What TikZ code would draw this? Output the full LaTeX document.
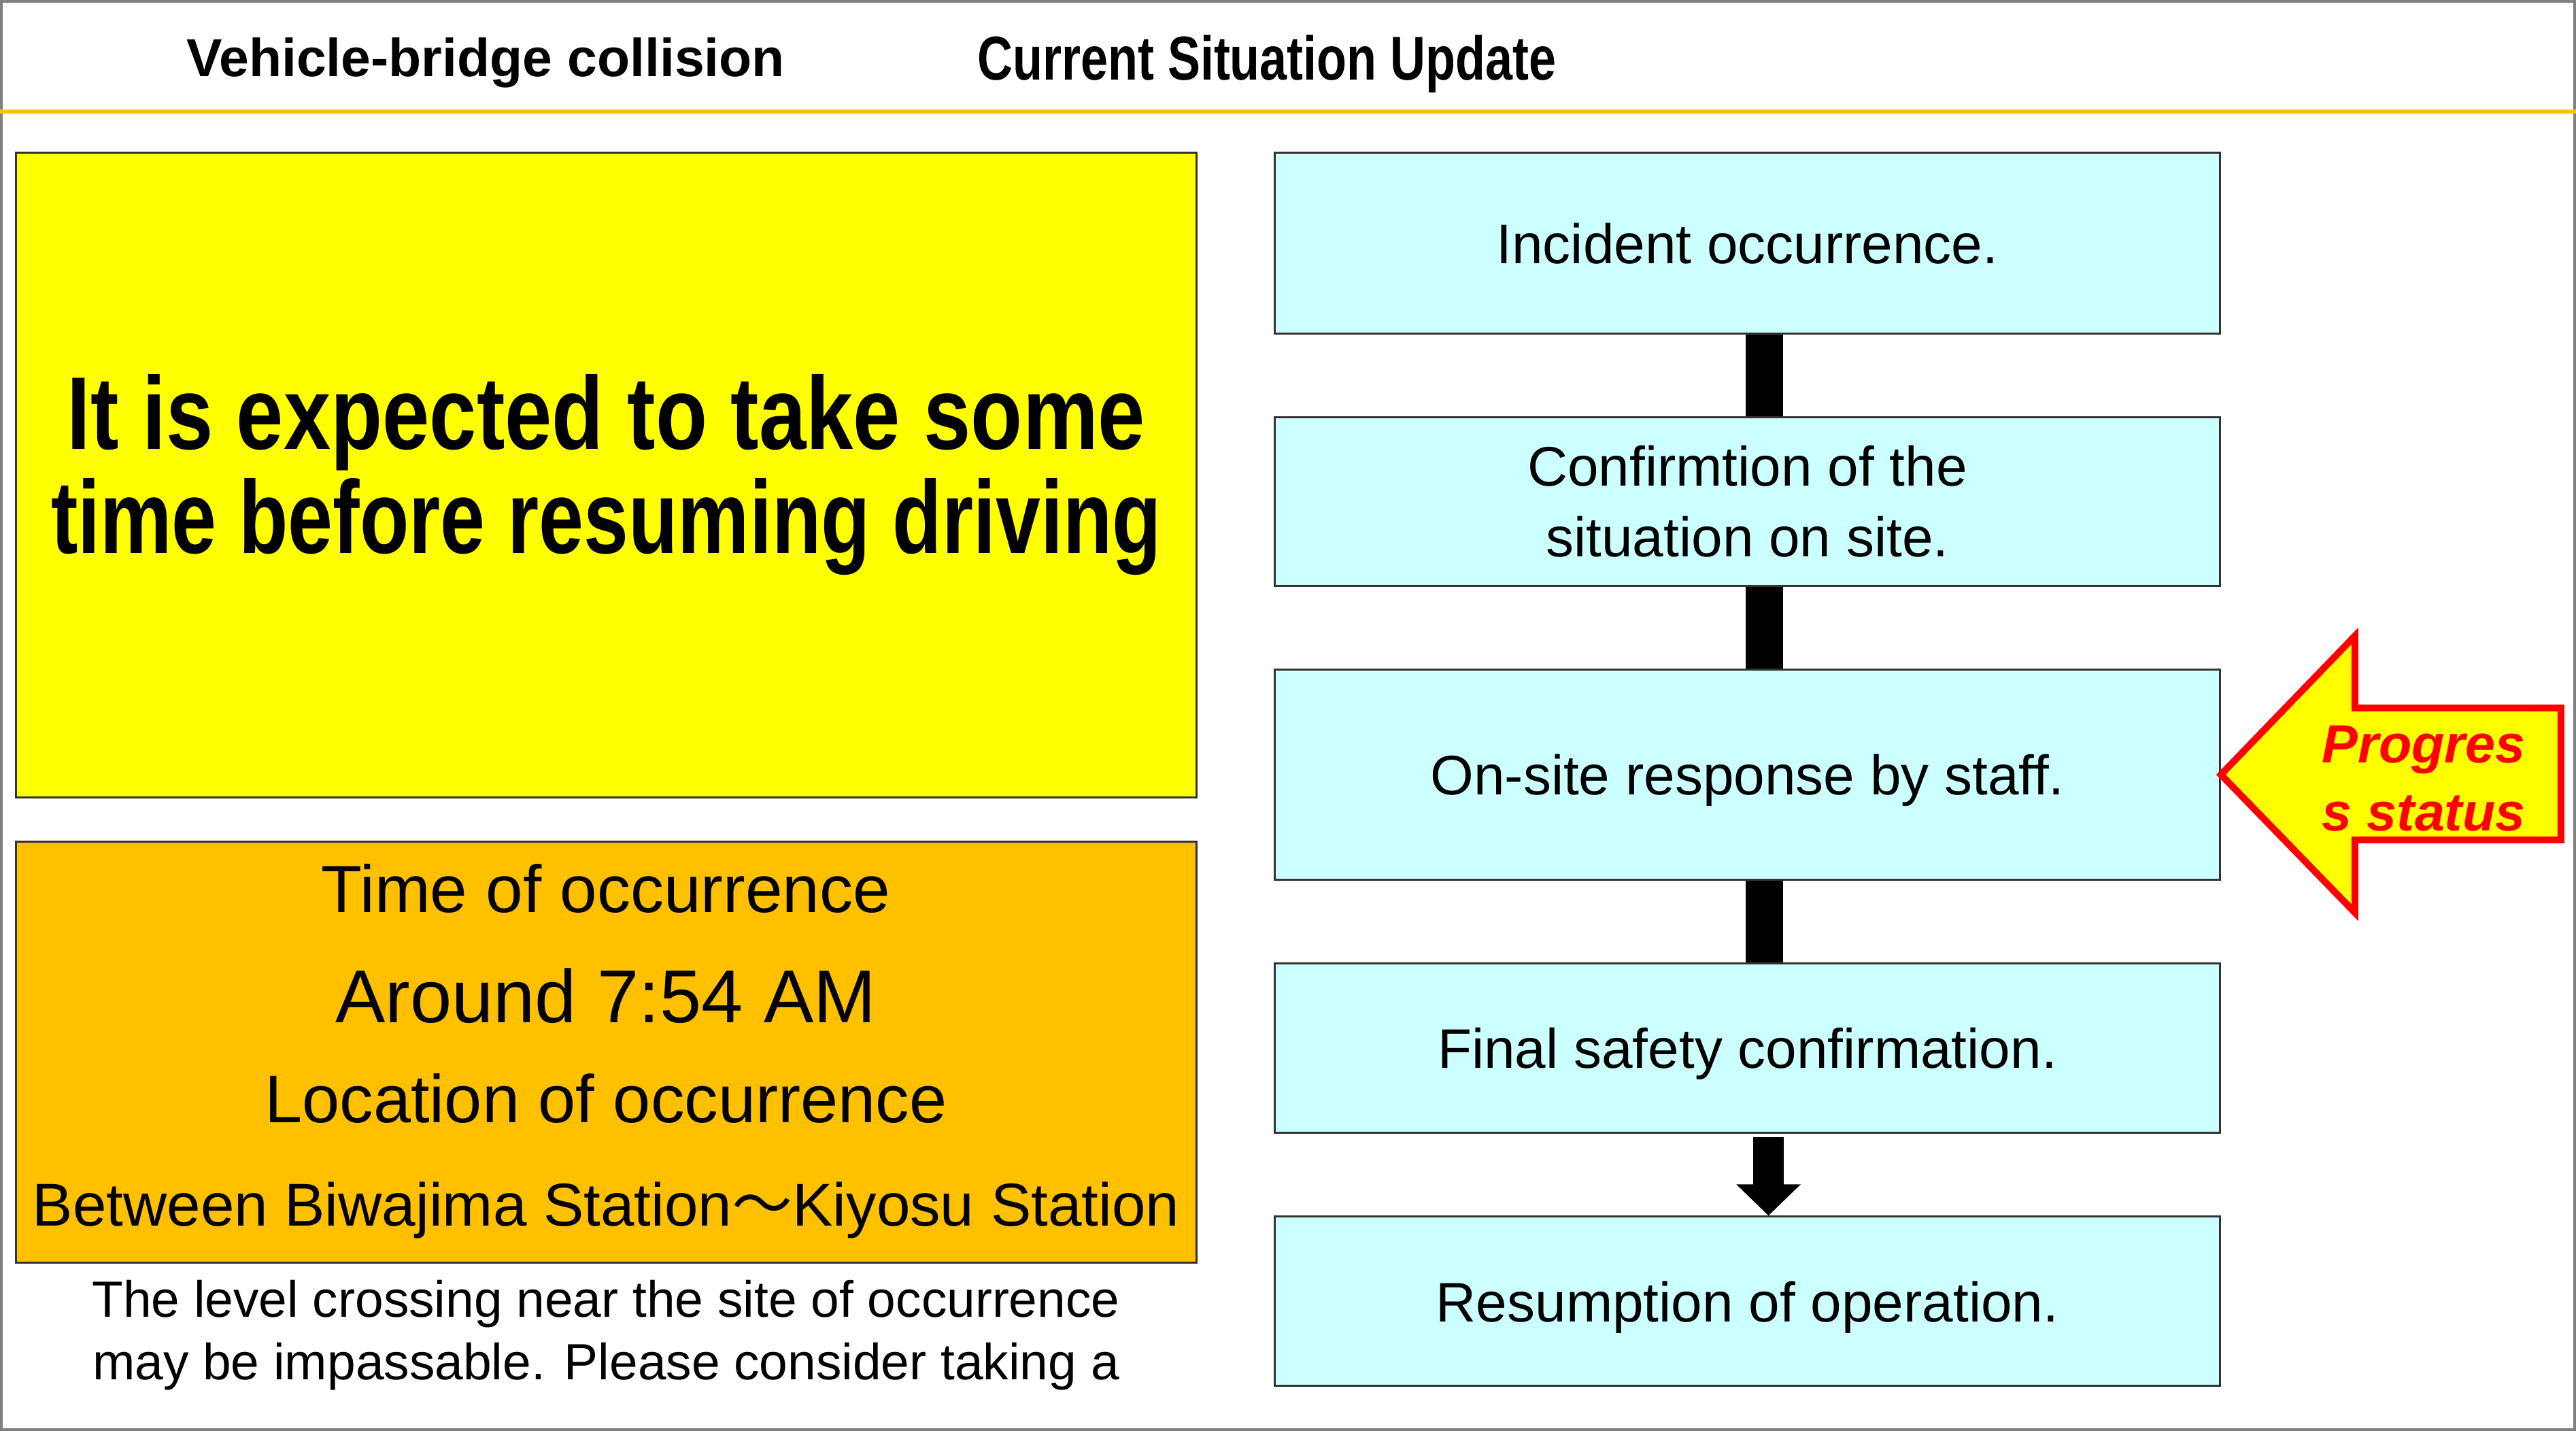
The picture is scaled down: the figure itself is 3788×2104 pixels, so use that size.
\documentclass[tikz,border=0pt]{standalone}
\usepackage{fontspec}
\setmainfont{Liberation Sans}
\newfontfamily\narrowfont[FakeStretch=0.82]{Liberation Sans}
\newfontfamily\narrowerfont[FakeStretch=0.78]{Liberation Sans}
\newfontfamily\titlefont[FakeStretch=0.79]{Liberation Sans}
\newfontfamily\jpfont{Noto Sans CJK JP}
\usepackage{xcolor}
\usetikzlibrary{arrows.meta,positioning}
\definecolor{boxcyan}{HTML}{CCFFFF}
\definecolor{noteyellow}{HTML}{FFFF00}
\definecolor{linegold}{HTML}{FFC000}
\definecolor{infoorange}{HTML}{FFC000}

\begin{document}
\begin{tikzpicture}[
  x=0.01cm, y=-0.01cm,
  node distance=1.20cm,
  stepbox/.style={draw=black!80, line width=0.03cm, fill=boxcyan, align=center, minimum width=13.89cm, text depth=0pt, font=\fontsize{23.3}{29.6}\selectfont},
  notebox/.style={draw=black!80, line width=0.03cm, fill=noteyellow, align=center, minimum width=17.35cm},
  infobox/.style={draw=black!80, line width=0.03cm, fill=infoorange, minimum width=17.35cm},
  txt/.style={inner sep=0pt, anchor=base},
  bar/.style={line width=0.55cm},
  lastbar/.style={line width=0.45cm, -{Triangle[length=0.46cm,width=0.92cm]}},
  status/.style={draw=red, line width=0.1cm, fill=noteyellow, line join=miter}
]
  \useasboundingbox (0,0) rectangle (3788,2104);
  \draw[gray, line width=0.04cm] (2,2) rectangle (3786,2102);
  \draw[linegold, line width=0.06cm] (0,164) -- (3788,164);

  % header
  \node[txt, font=\bfseries\fontsize{22.4}{27}\selectfont] (title) at (714,113) {Vehicle-bridge collision};
  \node[txt, font=\titlefont\bfseries\fontsize{25.9}{31}\selectfont] (subtitle) at (1863,118) {Current Situation Update};

  % left column
  \node[notebox, minimum height=9.47cm, font=\bfseries\fontsize{43.2}{43.5}\selectfont] (note) at (891.5,698.5) {{\narrowfont It is expected to take some}\\{\narrowerfont time before resuming driving}};
  \node[infobox, below=0.62cm of note, minimum height=6.19cm] (info) {};
  \node[txt, font=\fontsize{27.9}{33}\selectfont] (tlabel) at (891,1341) {Time of occurrence};
  \node[txt, font=\fontsize{31.3}{37}\selectfont] (tvalue) at (891,1503) {Around 7:54 AM};
  \node[txt, font=\fontsize{28.2}{33}\selectfont] (llabel) at (891,1650) {Location of occurrence};
  \node[txt, font=\fontsize{25.3}{30}\selectfont] (lvalue) at (891,1802) {Between Biwajima Station{\jpfont 〜}Kiyosu Station};
  \node[inner sep=0pt, align=center, font=\fontsize{21.3}{26.2}\selectfont] (advice) at (891,1963) {The level crossing near the site of occurrence\\may be impassable. Please consider taking a};

  % flow of steps
  \node[stepbox, minimum height=2.65cm] (box1) at (2569.5,357.5) {Incident occurrence.};
  \node[stepbox, minimum height=2.48cm, below=of box1] (box2) {Confirmtion of the\\situation on site.};
  \node[stepbox, minimum height=3.09cm, below=of box2] (box3) {On-site response by staff.};
  \node[stepbox, minimum height=2.49cm, below=of box3] (box4) {Final safety confirmation.};
  \node[stepbox, minimum height=2.49cm, below=of box4] (box5) {Resumption of operation.};

  \draw[bar] ([xshift=0.245cm]box1.south) -- ([xshift=0.245cm]box2.north);
  \draw[bar] ([xshift=0.245cm]box2.south) -- ([xshift=0.245cm]box3.north);
  \draw[bar] ([xshift=0.245cm]box3.south) -- ([xshift=0.245cm]box4.north);
  \draw[lastbar] ([xshift=0.31cm,yshift=-0.05cm]box4.south) -- ([xshift=0.31cm]box5.north);

  % progress marker
  \draw[status] (box3.east) -- ++(197,-204) -- ++(0,106) -- ++(303,0) -- ++(0,194) -- ++(-303,0) -- ++(0,107) -- cycle;
  \node[inner sep=0pt, anchor=west, align=left, text=red, font=\bfseries\itshape\fontsize{22.5}{28.5}\selectfont] (statustxt) at (3414,1145) {Progres\\s status};
\end{tikzpicture}
\end{document}
